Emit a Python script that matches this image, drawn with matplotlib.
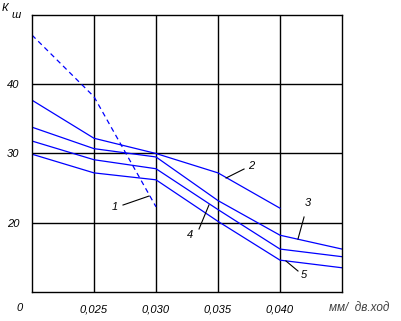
import matplotlib
matplotlib.use("Agg")
import matplotlib.pyplot as plt

# feed, mm per double stroke
feed = [0.020, 0.025, 0.030, 0.035, 0.040, 0.045]

# curve 1 (dashed)
feed_1 = [0.020, 0.025, 0.030]
k_1 = [47.1, 38.2, 22.3]

# curves 2..5
feed_2 = [0.020, 0.025, 0.030, 0.035, 0.040]
k_2 = [37.7, 32.2, 30.0, 27.2, 22.1]
k_3 = [33.8, 30.7, 29.5, 23.2, 18.2, 16.2]
k_4 = [31.8, 29.1, 27.8, 21.9, 16.2, 15.1]
k_5 = [29.9, 27.2, 26.2, 20.2, 14.6, 13.5]

x_ticks = [0.025, 0.030, 0.035, 0.040]
x_labels = ["0,025", "0,030", "0,035", "0,040"]
y_ticks = [20, 30, 40]
y_labels = ["20", "30", "40"]

plt.rcParams["font.family"] = ["Liberation Sans", "DejaVu Sans"]
plt.rcParams["font.style"] = "italic"

fig = plt.figure(figsize=(4.01, 3.21), dpi=100)
ax = fig.add_axes([32 / 401, 1 - 292 / 321, 310 / 401, 277 / 321])

blue = "#0000ff"
ax.plot(feed_1, k_1, color=blue, lw=0.9, dashes=(4, 3))
ax.plot(feed_2, k_2, color=blue, lw=0.9)
ax.plot(feed, k_3, color=blue, lw=0.9)
ax.plot(feed, k_4, color=blue, lw=0.9)
ax.plot(feed, k_5, color=blue, lw=0.9)

ax.set_xlim(0.020, 0.045)
ax.set_ylim(10, 50)
ax.set_xticks(x_ticks)
ax.set_xticklabels(x_labels, fontsize=8, style="italic")
ax.set_yticks(y_ticks)
ax.set_yticklabels(y_labels, fontsize=8, style="italic")
ax.tick_params(length=0, pad=9)
ax.grid(True, color="black", lw=1.0)
ax.set_axisbelow(True)
for s in ax.spines.values():
    s.set_linewidth(1.0)

# curve labels with leader lines: text, leader start, leader end, text pos
labels = [
    ("1", (0.02734, 22.56), (0.02944, 23.86), (0.02669, 22.27)),
    ("2", (0.03565, 26.46), (0.03710, 27.76), (0.03766, 28.19)),
    ("3", (0.04145, 17.65), (0.04194, 20.83), (0.04226, 22.85)),
    ("4", (0.03347, 19.10), (0.03427, 22.56), (0.03274, 18.23)),
    ("5", (0.04048, 14.48), (0.04145, 13.03), (0.04194, 12.45)),
]
for txt, p0, p1, pt in labels:
    ax.plot([p0[0], p1[0]], [p0[1], p1[1]], color="black", lw=0.8)
    ax.text(pt[0], pt[1], txt, fontsize=8, ha="center", va="center")

fig.text(5 / 401, 1 - 8 / 321, "К", fontsize=8, ha="center", va="center")
fig.text(16 / 401, 1 - 15 / 321, "ш", fontsize=8, ha="center", va="center")
fig.text(20 / 401, 1 - 308 / 321, "0", fontsize=8, ha="center", va="center")
fig.text(359 / 401, 1 - 308 / 321, "мм/  дв.ход", fontsize=8.5, ha="center",
         va="center", color="#404040")

fig.savefig("out.png", dpi=100)
